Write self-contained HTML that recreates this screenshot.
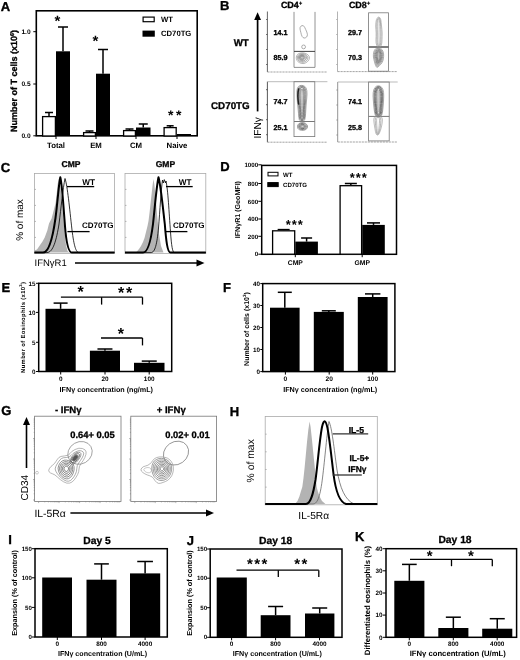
<!DOCTYPE html>
<html><head><meta charset="utf-8"><title>Figure</title>
<style>html,body{margin:0;padding:0;background:#fff;}svg{display:block;}</style></head>
<body>
<svg width="520" height="660" viewBox="0 0 520 660" font-family="Liberation Sans, Arial, sans-serif" text-rendering="geometricPrecision">
<defs><filter id="soft" x="0" y="0" width="520" height="660" filterUnits="userSpaceOnUse"><feGaussianBlur stdDeviation="0.4"/></filter></defs>
<rect width="520" height="660" fill="#fff"/>
<g filter="url(#soft)">
<text x="0.8" y="10.8" font-size="13" font-weight="bold" text-anchor="start" fill="#000"  stroke="#000" stroke-width="0.35">A</text>
<rect x="36.3" y="10.8" width="160.89999999999998" height="125.00000000000001" fill="none" stroke="#000" stroke-width="1.6"/>
<text x="16.8" y="81" font-size="9" font-weight="bold" text-anchor="middle" fill="#000" transform="rotate(-90 16.8 81)"  stroke="#000" stroke-width="0.3">Number of T cells (x10<tspan font-size="5.5" dy="-3">6</tspan><tspan dy="3">)</tspan></text>
<line x1="33.3" y1="31.7" x2="36.3" y2="31.7" stroke="#000" stroke-width="1" />
<text x="30.6" y="34.076" font-size="6.6" font-weight="bold" text-anchor="end" fill="#000"  >1.0</text>
<line x1="33.3" y1="84" x2="36.3" y2="84" stroke="#000" stroke-width="1" />
<text x="30.6" y="86.376" font-size="6.6" font-weight="bold" text-anchor="end" fill="#000"  >0.5</text>
<line x1="33.3" y1="135.8" x2="36.3" y2="135.8" stroke="#000" stroke-width="1" />
<text x="30.6" y="138.17600000000002" font-size="6.6" font-weight="bold" text-anchor="end" fill="#000"  >0.0</text>
<line x1="49.0" y1="116" x2="49.0" y2="112.5" stroke="#000" stroke-width="1.5" />
<line x1="45.0" y1="112.5" x2="53.0" y2="112.5" stroke="#000" stroke-width="1.5" />
<rect x="42.60" y="116.60" width="12.80" height="19.40" fill="#fff" stroke="#000" stroke-width="1.3"/>
<line x1="63.0" y1="51.3" x2="63.0" y2="27" stroke="#000" stroke-width="1.5" />
<line x1="58.0" y1="27" x2="68.0" y2="27" stroke="#000" stroke-width="1.5" />
<rect x="56.00" y="51.30" width="14.00" height="84.70" fill="#000" stroke="none" stroke-width="0"/>
<line x1="89.5" y1="132" x2="89.5" y2="131" stroke="#000" stroke-width="1.5" />
<line x1="85.5" y1="131" x2="93.5" y2="131" stroke="#000" stroke-width="1.5" />
<rect x="83.60" y="132.60" width="11.80" height="3.40" fill="#fff" stroke="#000" stroke-width="1.3"/>
<line x1="103.0" y1="73.7" x2="103.0" y2="49.5" stroke="#000" stroke-width="1.5" />
<line x1="98.0" y1="49.5" x2="108.0" y2="49.5" stroke="#000" stroke-width="1.5" />
<rect x="96.00" y="73.70" width="14.00" height="62.30" fill="#000" stroke="none" stroke-width="0"/>
<line x1="129.5" y1="130" x2="129.5" y2="129" stroke="#000" stroke-width="1.5" />
<line x1="125.5" y1="129" x2="133.5" y2="129" stroke="#000" stroke-width="1.5" />
<rect x="123.60" y="130.60" width="11.80" height="5.40" fill="#fff" stroke="#000" stroke-width="1.3"/>
<line x1="143.25" y1="127.5" x2="143.25" y2="124" stroke="#000" stroke-width="1.5" />
<line x1="138.75" y1="124" x2="147.75" y2="124" stroke="#000" stroke-width="1.5" />
<rect x="136.00" y="127.50" width="14.50" height="8.50" fill="#000" stroke="none" stroke-width="0"/>
<line x1="170.15" y1="127" x2="170.15" y2="125.8" stroke="#000" stroke-width="1.5" />
<line x1="166.65" y1="125.8" x2="173.65" y2="125.8" stroke="#000" stroke-width="1.5" />
<rect x="164.10" y="127.60" width="12.10" height="8.40" fill="#fff" stroke="#000" stroke-width="1.3"/>
<rect x="177.00" y="134.00" width="14.00" height="2.00" fill="#000" stroke="none" stroke-width="0"/>
<line x1="56" y1="136" x2="56" y2="139" stroke="#000" stroke-width="1" />
<text x="56" y="148" font-size="7.8" font-weight="bold" text-anchor="middle" fill="#000"  >Total</text>
<line x1="96" y1="136" x2="96" y2="139" stroke="#000" stroke-width="1" />
<text x="96" y="148" font-size="7.8" font-weight="bold" text-anchor="middle" fill="#000"  >EM</text>
<line x1="136" y1="136" x2="136" y2="139" stroke="#000" stroke-width="1" />
<text x="136" y="148" font-size="7.8" font-weight="bold" text-anchor="middle" fill="#000"  >CM</text>
<line x1="177" y1="136" x2="177" y2="139" stroke="#000" stroke-width="1" />
<text x="177" y="148" font-size="7.8" font-weight="bold" text-anchor="middle" fill="#000"  >Naive</text>
<text x="57.5" y="26.15" font-size="15" font-weight="bold" text-anchor="middle" fill="#000"  >*</text>
<text x="95.4" y="46.15" font-size="15" font-weight="bold" text-anchor="middle" fill="#000"  >*</text>
<text x="170.8" y="120.1" font-size="14" font-weight="bold" text-anchor="middle" fill="#000"  >*</text>
<text x="178.8" y="120.1" font-size="14" font-weight="bold" text-anchor="middle" fill="#000"  >*</text>
<rect x="143.10" y="17.10" width="11.10" height="4.60" fill="#fff" stroke="#000" stroke-width="1.2"/>
<text x="161" y="21.7" font-size="7.7" font-weight="bold" text-anchor="start" fill="#000"  >WT</text>
<rect x="142.50" y="30.60" width="12.30" height="6.10" fill="#000" stroke="none" stroke-width="1"/>
<text x="161" y="36.2" font-size="7.7" font-weight="bold" text-anchor="start" fill="#000"  >CD70TG</text>
<text x="220" y="10.3" font-size="13" font-weight="bold" text-anchor="start" fill="#000"  stroke="#000" stroke-width="0.35">B</text>
<text x="291.5" y="8.3" font-size="9" font-weight="bold" text-anchor="middle" fill="#000"   stroke="#000" stroke-width="0.3">CD4<tspan font-size="5.5" dy="-3">+</tspan></text>
<text x="359.5" y="8.3" font-size="9" font-weight="bold" text-anchor="middle" fill="#000"   stroke="#000" stroke-width="0.3">CD8<tspan font-size="5.5" dy="-3">+</tspan></text>
<line x1="257.6" y1="18" x2="257.6" y2="111.4" stroke="#000" stroke-width="1.7" />
<polygon points="257.6,12.3 254.2,20 261,20" fill="#000"/>
<text x="261" y="138.6" font-size="10.2"  text-anchor="start" fill="#000" transform="rotate(-90 261 138.6)" >IFNγ</text>
<text x="241.2" y="46.2" font-size="9.7" font-weight="bold" text-anchor="middle" fill="#000"   stroke="#000" stroke-width="0.3">WT</text>
<text x="249.7" y="109.2" font-size="9.8" font-weight="bold" text-anchor="end" fill="#000"   stroke="#000" stroke-width="0.3">CD70TG</text>
<line x1="267.4" y1="11.5" x2="267.4" y2="72" stroke="#555" stroke-width="0.9" />
<line x1="267.4" y1="72" x2="327.4" y2="72" stroke="#999" stroke-width="0.9" stroke-dasharray="2.2 0.8"/>
<line x1="266.09999999999997" y1="19.5" x2="267.4" y2="19.5" stroke="#555" stroke-width="0.9" />
<line x1="266.09999999999997" y1="34.5" x2="267.4" y2="34.5" stroke="#555" stroke-width="0.9" />
<line x1="266.09999999999997" y1="49.5" x2="267.4" y2="49.5" stroke="#555" stroke-width="0.9" />
<line x1="266.09999999999997" y1="64.5" x2="267.4" y2="64.5" stroke="#555" stroke-width="0.9" />
<path d="M294,11.9 V67.4 H315 V11.9" fill="none" stroke="#777" stroke-width="0.8"/>
<line x1="294" y1="51.4" x2="315" y2="51.4" stroke="#444" stroke-width="1" />
<text transform="translate(280.5 34.5) scale(1 1)" font-size="7.2" font-weight="bold" text-anchor="middle" stroke="#000" stroke-width="0.3">14.1</text>
<text transform="translate(280.5 60.1) scale(1 1)" font-size="7.2" font-weight="bold" text-anchor="middle" stroke="#000" stroke-width="0.3">85.9</text>
<path d="M300.1,27.5 Q300.4,26.2 302.0,25.6 Q303.6,25.1 304.6,27.2 Q305.7,29.4 306.8,32.0 Q307.8,34.7 307.2,36.0 Q306.7,37.3 305.4,37.8 Q304.1,38.4 303.1,37.6 Q302.0,36.8 301.4,34.7 Q300.9,32.6 300.4,30.8 Q299.8,28.9 300.1,27.5 Z" fill="none" stroke="#8a8a8a" stroke-width="0.7"/>
<circle cx="303.6" cy="46.9" r="1.9" fill="none" stroke="#8a8a8a" stroke-width="0.7"/>
<path d="M296.4,58.8 Q296.0,57.0 296.8,55.5 Q297.5,54.0 299.2,53.4 Q301.0,52.7 303.0,52.9 Q305.0,53.0 306.8,54.0 Q308.5,55.0 309.2,56.5 Q309.9,58.0 308.9,59.8 Q308.0,61.5 306.0,62.7 Q304.0,63.9 301.8,63.5 Q299.5,63.0 298.1,61.8 Q296.8,60.5 296.4,58.8 Z" fill="none" stroke="#999" stroke-width="0.7"/>
<path d="M297.5,58.5 Q297.2,57.1 297.8,55.9 Q298.4,54.7 299.8,54.1 Q301.2,53.6 302.8,53.7 Q304.4,53.9 305.8,54.7 Q307.2,55.5 307.7,56.7 Q308.3,57.9 307.5,59.3 Q306.8,60.7 305.2,61.6 Q303.6,62.6 301.8,62.2 Q300.0,61.9 298.9,60.9 Q297.8,59.9 297.5,58.5 Z" fill="none" stroke="#888" stroke-width="0.7"/>
<path d="M298.5,58.2 Q298.2,57.1 298.7,56.2 Q299.1,55.3 300.2,54.9 Q301.3,54.4 302.5,54.5 Q303.8,54.6 304.9,55.3 Q306.0,55.9 306.4,56.8 Q306.8,57.7 306.2,58.8 Q305.6,59.9 304.4,60.6 Q303.2,61.4 301.8,61.1 Q300.4,60.8 299.5,60.1 Q298.7,59.3 298.5,58.2 Z" fill="none" stroke="#777" stroke-width="0.7"/>
<path d="M299.4,58.0 Q299.2,57.2 299.5,56.5 Q299.9,55.8 300.7,55.5 Q301.4,55.2 302.3,55.3 Q303.2,55.4 304.0,55.8 Q304.8,56.3 305.1,56.9 Q305.4,57.6 305.0,58.4 Q304.6,59.2 303.7,59.7 Q302.8,60.3 301.8,60.1 Q300.8,59.9 300.2,59.3 Q299.6,58.7 299.4,58.0 Z" fill="none" stroke="#666" stroke-width="0.7"/>
<path d="M300.2,57.7 Q300.1,57.2 300.3,56.8 Q300.5,56.3 301.0,56.1 Q301.6,55.9 302.2,56.0 Q302.8,56.0 303.3,56.3 Q303.8,56.6 304.0,57.1 Q304.2,57.5 303.9,58.0 Q303.7,58.6 303.1,58.9 Q302.5,59.3 301.8,59.1 Q301.1,59.0 300.7,58.6 Q300.3,58.3 300.2,57.7 Z" fill="none" stroke="#555" stroke-width="0.7"/>
<path d="M300.9,57.5 Q300.9,57.3 301.0,57.0 Q301.1,56.8 301.4,56.7 Q301.7,56.6 302.0,56.6 Q302.3,56.6 302.6,56.8 Q302.9,56.9 303.0,57.2 Q303.1,57.4 302.9,57.7 Q302.8,58.0 302.5,58.2 Q302.2,58.4 301.8,58.3 Q301.4,58.2 301.2,58.0 Q301.0,57.8 300.9,57.5 Z" fill="none" stroke="#666" stroke-width="0.6"/>
<line x1="267.4" y1="81.7" x2="267.4" y2="142.2" stroke="#444" stroke-width="0.9" />
<line x1="267.4" y1="142.2" x2="327.4" y2="142.2" stroke="#999" stroke-width="0.9" stroke-dasharray="2.2 0.8"/>
<line x1="267.4" y1="81.7" x2="327.4" y2="81.7" stroke="#aaa" stroke-width="0.8" />
<line x1="266.09999999999997" y1="89.7" x2="267.4" y2="89.7" stroke="#444" stroke-width="0.9" />
<line x1="266.09999999999997" y1="104.7" x2="267.4" y2="104.7" stroke="#444" stroke-width="0.9" />
<line x1="266.09999999999997" y1="119.7" x2="267.4" y2="119.7" stroke="#444" stroke-width="0.9" />
<line x1="266.09999999999997" y1="134.7" x2="267.4" y2="134.7" stroke="#444" stroke-width="0.9" />
<rect x="294" y="81.7" width="20.80000000000001" height="54.89999999999999" fill="none" stroke="#777" stroke-width="0.8"/>
<line x1="294" y1="121.5" x2="314.8" y2="121.5" stroke="#777" stroke-width="1" />
<text transform="translate(280.5 104.19999999999999) scale(1 1)" font-size="7.2" font-weight="bold" text-anchor="middle" stroke="#000" stroke-width="0.3">74.7</text>
<text transform="translate(280.5 130.1) scale(1 1)" font-size="7.2" font-weight="bold" text-anchor="middle" stroke="#000" stroke-width="0.3">25.1</text>
<path d="M299.9,85.6 Q301.5,85.2 303.2,85.6 Q305.0,86.0 306.1,88.0 Q307.1,90.0 307.0,94.0 Q306.8,98.0 306.4,102.0 Q306.0,106.0 305.8,110.0 Q305.6,114.0 305.3,117.2 Q305.0,120.5 303.5,121.0 Q302.0,121.5 300.5,121.0 Q299.0,120.5 298.8,117.2 Q298.6,114.0 298.2,110.0 Q297.8,106.0 297.4,102.0 Q297.0,98.0 296.9,94.0 Q296.7,90.0 297.5,88.0 Q298.3,86.0 299.9,85.6 Z" fill="none" stroke="#888" stroke-width="0.7"/>
<path d="M300.3,86.3 Q301.6,85.9 303.0,86.3 Q304.4,86.7 305.2,88.6 Q306.1,90.5 306.0,94.4 Q305.8,98.2 305.5,102.0 Q305.2,105.9 305.0,109.7 Q304.9,113.6 304.6,116.7 Q304.4,119.8 303.2,120.3 Q302.0,120.8 300.8,120.3 Q299.6,119.8 299.4,116.7 Q299.3,113.6 299.0,109.7 Q298.6,105.9 298.3,102.0 Q298.0,98.2 297.9,94.4 Q297.8,90.5 298.4,88.6 Q299.0,86.7 300.3,86.3 Z" fill="none" stroke="#666" stroke-width="0.7"/>
<path d="M300.7,87.0 Q301.7,86.6 302.8,87.0 Q303.8,87.4 304.4,89.2 Q305.1,91.0 305.0,94.7 Q304.9,98.4 304.6,102.1 Q304.4,105.8 304.3,109.4 Q304.2,113.1 304.0,116.1 Q303.8,119.1 302.9,119.6 Q302.0,120.0 301.1,119.6 Q300.2,119.1 300.1,116.1 Q300.0,113.1 299.7,109.4 Q299.5,105.8 299.2,102.1 Q299.0,98.4 298.9,94.7 Q298.8,91.0 299.3,89.2 Q299.8,87.4 300.7,87.0 Z" fill="none" stroke="#555" stroke-width="0.7"/>
<path d="M301.2,87.7 Q301.8,87.3 302.5,87.7 Q303.2,88.0 303.6,89.8 Q304.0,91.6 304.0,95.1 Q303.9,98.6 303.8,102.1 Q303.6,105.6 303.5,109.2 Q303.4,112.7 303.3,115.5 Q303.2,118.4 302.6,118.8 Q302.0,119.3 301.4,118.8 Q300.8,118.4 300.7,115.5 Q300.6,112.7 300.5,109.2 Q300.3,105.6 300.2,102.1 Q300.0,98.6 299.9,95.1 Q299.9,91.6 300.2,89.8 Q300.5,88.0 301.2,87.7 Z" fill="none" stroke="#555" stroke-width="0.7"/>
<path d="M301.6,89.1 Q301.9,88.8 302.2,89.1 Q302.6,89.4 302.8,91.0 Q303.0,92.6 303.0,95.8 Q303.0,99.0 302.9,102.2 Q302.8,105.4 302.8,108.6 Q302.7,111.8 302.7,114.4 Q302.6,117.0 302.3,117.4 Q302.0,117.8 301.7,117.4 Q301.4,117.0 301.4,114.4 Q301.3,111.8 301.2,108.6 Q301.2,105.4 301.1,102.2 Q301.0,99.0 301.0,95.8 Q300.9,92.6 301.1,91.0 Q301.3,89.4 301.6,89.1 Z" fill="none" stroke="#666" stroke-width="0.7"/>
<path d="M298.6,89 C297.6,93 297.8,99 298.6,104" fill="none" stroke="#222" stroke-width="1.5" stroke-linecap="round"/>
<path d="M297.6,127.5 Q297.3,126.5 297.9,125.0 Q298.5,123.5 300.2,123.0 Q302.0,122.4 303.9,122.8 Q305.8,123.2 306.8,124.6 Q307.8,126.0 307.4,127.5 Q307.0,129.0 305.2,129.8 Q303.5,130.5 301.5,130.2 Q299.5,130.0 298.6,129.2 Q297.8,128.5 297.6,127.5 Z" fill="none" stroke="#777" stroke-width="0.8"/>
<path d="M298.6,127.3 Q298.4,126.5 298.9,125.3 Q299.3,124.2 300.7,123.7 Q302.1,123.3 303.5,123.6 Q305.0,123.9 305.8,125.0 Q306.6,126.1 306.3,127.3 Q306.0,128.4 304.6,129.0 Q303.2,129.6 301.7,129.4 Q300.1,129.2 299.5,128.6 Q298.8,128.1 298.6,127.3 Z" fill="none" stroke="#666" stroke-width="0.8"/>
<path d="M299.5,127.1 Q299.4,126.5 299.7,125.6 Q300.1,124.8 301.1,124.4 Q302.1,124.1 303.2,124.4 Q304.3,124.6 304.9,125.4 Q305.5,126.2 305.3,127.1 Q305.0,128.0 304.0,128.4 Q303.0,128.8 301.8,128.7 Q300.7,128.5 300.2,128.1 Q299.7,127.7 299.5,127.1 Z" fill="none" stroke="#555" stroke-width="0.8"/>
<path d="M300.4,126.9 Q300.3,126.5 300.5,125.9 Q300.8,125.3 301.5,125.1 Q302.2,124.9 302.9,125.0 Q303.7,125.2 304.1,125.7 Q304.5,126.3 304.3,126.9 Q304.2,127.5 303.5,127.8 Q302.8,128.1 302.0,128.0 Q301.2,127.9 300.8,127.6 Q300.5,127.3 300.4,126.9 Z" fill="none" stroke="#555" stroke-width="0.8"/>
<path d="M301.4,126.7 Q301.3,126.5 301.4,126.2 Q301.5,125.9 301.9,125.8 Q302.2,125.7 302.6,125.8 Q303.0,125.8 303.2,126.1 Q303.4,126.4 303.3,126.7 Q303.2,127.0 302.9,127.2 Q302.5,127.3 302.1,127.2 Q301.7,127.2 301.6,127.1 Q301.4,126.9 301.4,126.7 Z" fill="none" stroke="#777" stroke-width="0.6"/>
<line x1="337.5" y1="11.5" x2="337.5" y2="71.6" stroke="#aaa" stroke-width="0.9" />
<line x1="337.5" y1="71.6" x2="397.5" y2="71.6" stroke="#999" stroke-width="0.9" stroke-dasharray="2.2 0.8"/>
<line x1="336.2" y1="19.5" x2="337.5" y2="19.5" stroke="#aaa" stroke-width="0.9" />
<line x1="336.2" y1="34.5" x2="337.5" y2="34.5" stroke="#aaa" stroke-width="0.9" />
<line x1="336.2" y1="49.5" x2="337.5" y2="49.5" stroke="#aaa" stroke-width="0.9" />
<line x1="336.2" y1="64.5" x2="337.5" y2="64.5" stroke="#aaa" stroke-width="0.9" />
<rect x="368.6" y="12.8" width="19.899999999999977" height="58.400000000000006" fill="none" stroke="#777" stroke-width="0.8"/>
<line x1="368.6" y1="47" x2="388.5" y2="47" stroke="#555" stroke-width="1.5" />
<text transform="translate(355 34.9) scale(1 1)" font-size="7.2" font-weight="bold" text-anchor="middle" stroke="#000" stroke-width="0.3">29.7</text>
<text transform="translate(355 60.0) scale(1 1)" font-size="7.2" font-weight="bold" text-anchor="middle" stroke="#000" stroke-width="0.3">70.3</text>
<path d="M377.5,17.7 Q378.8,16.4 379.9,17.7 Q381.0,19.0 381.2,22.5 Q381.5,26.0 381.9,29.5 Q382.3,33.0 382.1,36.5 Q382.0,40.0 381.8,43.0 Q381.5,46.0 380.2,46.8 Q379.0,47.5 377.8,46.8 Q376.5,46.0 376.1,43.0 Q375.8,40.0 376.1,36.5 Q376.3,33.0 375.9,29.5 Q375.5,26.0 375.9,22.5 Q376.2,19.0 377.5,17.7 Z" fill="none" stroke="#999" stroke-width="0.65"/>
<path d="M378.0,18.4 Q378.8,17.2 379.6,18.4 Q380.3,19.6 380.5,23.0 Q380.6,26.3 380.9,29.6 Q381.1,33.0 381.0,36.3 Q380.9,39.6 380.8,42.5 Q380.6,45.3 379.8,46.0 Q379.0,46.7 378.1,46.0 Q377.3,45.3 377.1,42.5 Q376.9,39.6 377.0,36.3 Q377.2,33.0 376.9,29.6 Q376.7,26.3 376.9,23.0 Q377.1,19.6 378.0,18.4 Z" fill="none" stroke="#888" stroke-width="0.65"/>
<path d="M378.4,19.1 Q378.9,18.0 379.2,19.1 Q379.6,20.3 379.7,23.4 Q379.8,26.6 379.9,29.8 Q380.0,32.9 380.0,36.0 Q379.9,39.2 379.8,41.9 Q379.8,44.6 379.3,45.3 Q378.9,46.0 378.5,45.3 Q378.1,44.6 378.0,41.9 Q377.9,39.2 378.0,36.0 Q378.0,32.9 377.9,29.8 Q377.8,26.6 377.9,23.4 Q378.0,20.3 378.4,19.1 Z" fill="none" stroke="#999" stroke-width="0.65"/>
<path d="M377.0,47.8 Q378.5,47.0 380.5,48.2 Q382.5,49.5 383.1,51.8 Q383.8,54.0 383.6,56.5 Q383.5,59.0 382.8,61.0 Q382.0,63.0 380.8,64.3 Q379.5,65.6 378.2,66.8 Q377.0,68.0 376.4,67.0 Q375.8,66.0 375.1,64.0 Q374.5,62.0 373.9,59.5 Q373.2,57.0 373.4,54.5 Q373.5,52.0 374.5,50.2 Q375.5,48.5 377.0,47.8 Z" fill="none" stroke="#888" stroke-width="0.7"/>
<path d="M377.3,48.5 Q378.5,47.9 380.1,49.0 Q381.7,50.1 382.2,52.1 Q382.8,54.1 382.6,56.4 Q382.5,58.6 381.9,60.5 Q381.3,62.2 380.3,63.4 Q379.3,64.6 378.3,65.7 Q377.3,66.8 376.8,65.8 Q376.4,65.0 375.8,63.2 Q375.3,61.4 374.8,59.1 Q374.3,56.9 374.4,54.6 Q374.5,52.4 375.3,50.8 Q376.1,49.2 377.3,48.5 Z" fill="none" stroke="#777" stroke-width="0.7"/>
<path d="M377.6,49.3 Q378.5,48.7 379.8,49.7 Q381.0,50.7 381.4,52.5 Q381.8,54.3 381.7,56.3 Q381.6,58.3 381.2,59.9 Q380.7,61.5 379.9,62.5 Q379.2,63.6 378.4,64.5 Q377.6,65.5 377.2,64.7 Q376.9,63.9 376.5,62.3 Q376.1,60.7 375.7,58.7 Q375.3,56.7 375.3,54.7 Q375.4,52.7 376.1,51.3 Q376.7,49.9 377.6,49.3 Z" fill="none" stroke="#666" stroke-width="0.7"/>
<path d="M377.9,50.1 Q378.6,49.5 379.5,50.4 Q380.4,51.3 380.6,52.9 Q380.9,54.5 380.9,56.2 Q380.8,58.0 380.5,59.4 Q380.1,60.8 379.6,61.7 Q379.0,62.6 378.4,63.4 Q377.9,64.2 377.6,63.5 Q377.3,62.9 377.0,61.5 Q376.8,60.0 376.5,58.3 Q376.2,56.5 376.2,54.8 Q376.3,53.0 376.8,51.8 Q377.2,50.6 377.9,50.1 Z" fill="none" stroke="#555" stroke-width="0.7"/>
<path d="M378.2,50.8 Q378.6,50.4 379.1,51.1 Q379.7,51.9 379.9,53.2 Q380.1,54.6 380.0,56.1 Q380.0,57.6 379.8,58.8 Q379.6,60.0 379.2,60.8 Q378.9,61.6 378.5,62.3 Q378.2,63.0 378.0,62.4 Q377.8,61.8 377.6,60.6 Q377.5,59.4 377.3,57.9 Q377.1,56.4 377.1,54.9 Q377.2,53.4 377.5,52.3 Q377.7,51.3 378.2,50.8 Z" fill="none" stroke="#555" stroke-width="0.7"/>
<path d="M378.4,51.6 Q378.6,51.2 378.8,51.9 Q379.1,52.5 379.1,53.6 Q379.2,54.8 379.2,56.0 Q379.2,57.2 379.1,58.2 Q379.0,59.2 378.9,59.9 Q378.7,60.5 378.6,61.1 Q378.4,61.8 378.3,61.2 Q378.3,60.8 378.2,59.8 Q378.1,58.8 378.0,57.5 Q378.0,56.2 378.0,55.0 Q378.0,53.8 378.1,52.9 Q378.2,52.0 378.4,51.6 Z" fill="none" stroke="#777" stroke-width="0.7"/>
<line x1="337.7" y1="82" x2="337.7" y2="142" stroke="#888" stroke-width="0.9" />
<line x1="337.7" y1="142" x2="397.7" y2="142" stroke="#999" stroke-width="0.9" stroke-dasharray="2.2 0.8"/>
<line x1="337.7" y1="82" x2="397.7" y2="82" stroke="#aaa" stroke-width="0.8" />
<line x1="336.4" y1="90" x2="337.7" y2="90" stroke="#888" stroke-width="0.9" />
<line x1="336.4" y1="105" x2="337.7" y2="105" stroke="#888" stroke-width="0.9" />
<line x1="336.4" y1="120" x2="337.7" y2="120" stroke="#888" stroke-width="0.9" />
<line x1="336.4" y1="135" x2="337.7" y2="135" stroke="#888" stroke-width="0.9" />
<rect x="368.6" y="82" width="20.599999999999966" height="58.900000000000006" fill="none" stroke="#777" stroke-width="0.8"/>
<line x1="368.6" y1="116.4" x2="389.2" y2="116.4" stroke="#777" stroke-width="1" />
<text transform="translate(355.1 104.19999999999999) scale(1 1)" font-size="7.2" font-weight="bold" text-anchor="middle" stroke="#000" stroke-width="0.3">74.1</text>
<text transform="translate(355.1 130.1) scale(1 1)" font-size="7.2" font-weight="bold" text-anchor="middle" stroke="#000" stroke-width="0.3">25.8</text>
<path d="M376.6,86.2 Q378.5,85.4 380.2,86.2 Q382.0,87.0 382.9,89.5 Q383.8,92.0 383.7,96.0 Q383.6,100.0 383.3,104.0 Q383.0,108.0 382.5,112.0 Q382.0,116.0 380.2,116.8 Q378.5,117.5 376.8,116.8 Q375.0,116.0 374.5,112.0 Q374.0,108.0 373.6,104.0 Q373.3,100.0 373.1,96.0 Q373.0,92.0 373.9,89.5 Q374.8,87.0 376.6,86.2 Z" fill="none" stroke="#888" stroke-width="0.75"/>
<path d="M377.0,86.9 Q378.5,86.2 379.9,86.9 Q381.3,87.7 382.0,90.1 Q382.7,92.5 382.6,96.2 Q382.6,100.0 382.3,103.8 Q382.1,107.7 381.7,111.5 Q381.3,115.2 379.9,116.0 Q378.5,116.7 377.1,116.0 Q375.7,115.2 375.3,111.5 Q374.9,107.7 374.6,103.8 Q374.3,100.0 374.2,96.2 Q374.1,92.5 374.8,90.1 Q375.5,87.7 377.0,86.9 Z" fill="none" stroke="#555" stroke-width="0.75"/>
<path d="M377.3,87.7 Q378.5,87.0 379.5,87.7 Q380.6,88.4 381.2,90.7 Q381.7,92.9 381.7,96.5 Q381.6,100.1 381.4,103.7 Q381.3,107.3 380.9,110.9 Q380.6,114.5 379.5,115.2 Q378.5,115.8 377.4,115.2 Q376.3,114.5 376.0,110.9 Q375.7,107.3 375.5,103.7 Q375.2,100.1 375.1,96.5 Q375.1,92.9 375.6,90.7 Q376.2,88.4 377.3,87.7 Z" fill="none" stroke="#444" stroke-width="0.75"/>
<path d="M377.6,88.3 Q378.4,87.6 379.2,88.3 Q380.0,89.0 380.4,91.1 Q380.8,93.3 380.8,96.7 Q380.7,100.1 380.6,103.6 Q380.5,107.0 380.2,110.5 Q380.0,113.9 379.2,114.5 Q378.4,115.2 377.7,114.5 Q376.9,113.9 376.6,110.5 Q376.4,107.0 376.3,103.6 Q376.1,100.1 376.0,96.7 Q376.0,93.3 376.4,91.1 Q376.8,89.0 377.6,88.3 Z" fill="none" stroke="#555" stroke-width="0.75"/>
<path d="M377.9,88.9 Q378.4,88.2 378.9,88.9 Q379.4,89.5 379.7,91.6 Q379.9,93.6 379.9,96.9 Q379.9,100.2 379.8,103.5 Q379.7,106.7 379.5,110.0 Q379.4,113.3 378.9,113.9 Q378.4,114.5 377.9,113.9 Q377.4,113.3 377.3,110.0 Q377.2,106.7 377.1,103.5 Q377.0,100.2 376.9,96.9 Q376.9,93.6 377.1,91.6 Q377.4,89.5 377.9,88.9 Z" fill="none" stroke="#777" stroke-width="0.75"/>
<path d="M378.2,90.6 Q378.4,90.1 378.6,90.6 Q378.8,91.2 378.9,93.0 Q378.9,94.7 378.9,97.5 Q378.9,100.3 378.9,103.1 Q378.9,105.9 378.8,108.7 Q378.8,111.5 378.6,112.0 Q378.4,112.5 378.2,112.0 Q378.1,111.5 378.0,108.7 Q378.0,105.9 377.9,103.1 Q377.9,100.3 377.9,97.5 Q377.9,94.7 377.9,93.0 Q378.0,91.2 378.2,90.6 Z" fill="none" stroke="#aaa" stroke-width="0.75"/>
<path d="M375.8,116.0 Q378.0,115.0 380.2,116.0 Q382.5,117.0 382.4,120.0 Q382.3,123.0 381.6,126.0 Q381.0,129.0 380.2,131.0 Q379.5,133.0 378.8,134.2 Q378.0,135.5 377.0,135.0 Q376.0,134.5 375.5,131.8 Q375.0,129.0 374.5,126.0 Q374.0,123.0 373.8,120.0 Q373.5,117.0 375.8,116.0 Z" fill="none" stroke="#999" stroke-width="0.65"/>
<path d="M376.5,116.7 Q378.0,115.8 379.5,116.7 Q381.0,117.6 380.9,120.4 Q380.8,123.2 380.4,125.9 Q380.0,128.7 379.5,130.5 Q379.0,132.4 378.5,133.5 Q378.0,134.7 377.3,134.2 Q376.7,133.7 376.4,131.2 Q376.0,128.7 375.7,125.9 Q375.4,123.2 375.2,120.4 Q375.0,117.6 376.5,116.7 Z" fill="none" stroke="#888" stroke-width="0.65"/>
<path d="M377.3,117.3 Q378.0,116.5 378.7,117.3 Q379.5,118.2 379.5,120.8 Q379.4,123.3 379.2,125.8 Q379.0,128.4 378.7,130.1 Q378.5,131.8 378.2,132.9 Q378.0,133.9 377.7,133.5 Q377.3,133.1 377.2,130.7 Q377.0,128.4 376.8,125.8 Q376.7,123.3 376.6,120.8 Q376.5,118.2 377.3,117.3 Z" fill="none" stroke="#999" stroke-width="0.65"/>
<text x="0.8" y="171.8" font-size="13" font-weight="bold" text-anchor="start" fill="#000"  stroke="#000" stroke-width="0.35">C</text>
<text x="71" y="167.2" font-size="8.5" font-weight="bold" text-anchor="middle" fill="#000"   stroke="#000" stroke-width="0.3">CMP</text>
<text x="165.4" y="167.2" font-size="8.5" font-weight="bold" text-anchor="middle" fill="#000"   stroke="#000" stroke-width="0.3">GMP</text>
<text x="23" y="220" font-size="10"  text-anchor="middle" fill="#000" transform="rotate(-90 23 220)" >% of max</text>
<rect x="34.5" y="173.4" width="80.0" height="80.0" fill="#fff" stroke="#aaa" stroke-width="0.8"/>
<line x1="34.5" y1="189.4" x2="36.0" y2="189.4" stroke="#999" stroke-width="0.7" />
<line x1="34.5" y1="205.4" x2="36.0" y2="205.4" stroke="#999" stroke-width="0.7" />
<line x1="34.5" y1="221.4" x2="36.0" y2="221.4" stroke="#999" stroke-width="0.7" />
<line x1="34.5" y1="237.4" x2="36.0" y2="237.4" stroke="#999" stroke-width="0.7" />
<path d="M34.5,252.6 L34.5,250.5 L37,249.6 L40.4,244.4 L42.5,241.5 L44.7,237.5 L47.3,230.6 L49,223.6 L51.6,218.4 L53.4,211.5 L55.6,202.9 L56.8,192.5 L57.7,183.8 L58.8,178.5 L60,183 L61.5,196 L63,215 L64.6,232 L66,245 L67.5,251 L69.5,252.6 Z" fill="#b3b3b3" stroke="none"/>
<path d="M34.5,252.6 L47,252.6 C53,252.6 56.5,240 59,224 C61,208 63,188 65,178.5 C67.5,186 69.5,208 72,230 C74,246 76,252.6 79,252.6 L114.5,252.6" fill="none" stroke="#000" stroke-width="0.8" stroke-linejoin="round"/>
<path d="M34.5,252.6 L43,252.6 C49,252.6 53,236 55.5,218 C57.5,203 58.5,186 60.3,177.3 C62.5,186 63.5,210 65.5,232 C67,246 69,252.6 72,252.6 L114.5,252.6" fill="none" stroke="#000" stroke-width="2" stroke-linejoin="round"/>
<line x1="67" y1="186.6" x2="94.2" y2="186.6" stroke="#000" stroke-width="1.3" />
<text x="88.6" y="184.7" font-size="8.2" font-weight="bold" text-anchor="middle" fill="#000"  >WT</text>
<line x1="67.4" y1="231.6" x2="89.6" y2="231.6" stroke="#000" stroke-width="1.3" />
<text x="97.8" y="228.2" font-size="8" font-weight="bold" text-anchor="middle" fill="#000"  >CD70TG</text>
<rect x="125" y="173.4" width="80.80000000000001" height="80.0" fill="#fff" stroke="#aaa" stroke-width="0.8"/>
<line x1="125" y1="189.4" x2="126.5" y2="189.4" stroke="#999" stroke-width="0.7" />
<line x1="125" y1="205.4" x2="126.5" y2="205.4" stroke="#999" stroke-width="0.7" />
<line x1="125" y1="221.4" x2="126.5" y2="221.4" stroke="#999" stroke-width="0.7" />
<line x1="125" y1="237.4" x2="126.5" y2="237.4" stroke="#999" stroke-width="0.7" />
<path d="M125,252.6 L136,252.6 L139,249 L141,246 L143,242 L144.5,238 L146,232 L147.5,226 L148.5,221 L149.5,213 L150.5,204 L151.5,195 L152.5,186 L153.4,179 L154.3,184 L155.5,196 L157,214 L159,234 L161,246 L163.5,252.6 Z" fill="#b3b3b3" stroke="none"/>
<path d="M125,252.6 L151,252.6 C155,252.6 157,244 158.5,228 C160,210 161,190 162.5,180 L163.3,183 L164.3,179.6 L165.5,183 L166,181 C168,190 169,212 170.5,232 C171.5,246 172.5,252.6 174.5,252.6 L205.8,252.6" fill="none" stroke="#000" stroke-width="0.8" stroke-linejoin="round"/>
<path d="M125,252.6 L143,252.6 C148,252.6 151,240 153,224 C155,206 156.5,186 158.5,177.3 C160.5,184 162.5,204 164.8,224 C166,240 167.5,252.6 170.5,252.6 L205.8,252.6" fill="none" stroke="#000" stroke-width="2" stroke-linejoin="round"/>
<line x1="166" y1="186.6" x2="192.7" y2="186.6" stroke="#000" stroke-width="1.3" />
<text x="185.2" y="184.7" font-size="8.2" font-weight="bold" text-anchor="middle" fill="#000"  >WT</text>
<line x1="165.4" y1="231.6" x2="187.4" y2="231.6" stroke="#000" stroke-width="1.3" />
<text x="188.8" y="228.2" font-size="8" font-weight="bold" text-anchor="middle" fill="#000"  >CD70TG</text>
<text x="34.5" y="266" font-size="9.5"  text-anchor="start" fill="#000"  >IFNγR1</text>
<line x1="75" y1="263" x2="198" y2="263" stroke="#000" stroke-width="1.6" />
<polygon points="204.5,263 196.5,259.5 196.5,266.5" fill="#000"/>
<text x="220.3" y="170.8" font-size="13" font-weight="bold" text-anchor="start" fill="#000"  stroke="#000" stroke-width="0.35">D</text>
<rect x="261.7" y="165.4" width="134.8" height="88.9" fill="none" stroke="#000" stroke-width="1.5"/>
<line x1="258.3" y1="164.8" x2="261.5" y2="164.8" stroke="#000" stroke-width="1" />
<text x="258.2" y="167.032" font-size="6.2" font-weight="bold" text-anchor="end" fill="#000"  >1000</text>
<line x1="258.3" y1="183.5" x2="261.5" y2="183.5" stroke="#000" stroke-width="1" />
<text x="258.2" y="185.732" font-size="6.2" font-weight="bold" text-anchor="end" fill="#000"  >800</text>
<line x1="258.3" y1="201.3" x2="261.5" y2="201.3" stroke="#000" stroke-width="1" />
<text x="258.2" y="203.532" font-size="6.2" font-weight="bold" text-anchor="end" fill="#000"  >600</text>
<line x1="258.3" y1="219" x2="261.5" y2="219" stroke="#000" stroke-width="1" />
<text x="258.2" y="221.232" font-size="6.2" font-weight="bold" text-anchor="end" fill="#000"  >400</text>
<line x1="258.3" y1="236.3" x2="261.5" y2="236.3" stroke="#000" stroke-width="1" />
<text x="258.2" y="238.532" font-size="6.2" font-weight="bold" text-anchor="end" fill="#000"  >200</text>
<line x1="258.3" y1="254.2" x2="261.5" y2="254.2" stroke="#000" stroke-width="1" />
<text x="258.2" y="256.432" font-size="6.2" font-weight="bold" text-anchor="end" fill="#000"  >0</text>
<text x="239.6" y="209.6" font-size="7.1" font-weight="bold" text-anchor="middle" fill="#000" transform="rotate(-90 239.6 209.6)" >IFNγR1 (GeoMFI)</text>
<rect x="268.00" y="172.30" width="10.00" height="3.60" fill="#fff" stroke="#000" stroke-width="1"/>
<text x="283" y="176.5" font-size="6.1" font-weight="bold" text-anchor="start" fill="#000"  >WT</text>
<rect x="267.80" y="182.60" width="10.40" height="4.00" fill="#000" stroke="#000" stroke-width="1"/>
<text x="283" y="187.2" font-size="6.1" font-weight="bold" text-anchor="start" fill="#000"  >CD70TG</text>
<line x1="283.65" y1="230.2" x2="283.65" y2="229.6" stroke="#000" stroke-width="1.5" />
<line x1="277.65" y1="229.6" x2="289.65" y2="229.6" stroke="#000" stroke-width="1.5" />
<rect x="272.60" y="230.80" width="22.10" height="23.40" fill="#fff" stroke="#000" stroke-width="1.3"/>
<line x1="306.6" y1="241.6" x2="306.6" y2="238" stroke="#000" stroke-width="1.5" />
<line x1="301.1" y1="238" x2="312.1" y2="238" stroke="#000" stroke-width="1.5" />
<rect x="295.30" y="241.60" width="22.60" height="12.60" fill="#000" stroke="none" stroke-width="0"/>
<line x1="350.85" y1="185.1" x2="350.85" y2="183.5" stroke="#000" stroke-width="1.5" />
<line x1="344.85" y1="183.5" x2="356.85" y2="183.5" stroke="#000" stroke-width="1.5" />
<rect x="340.10" y="185.70" width="21.50" height="68.50" fill="#fff" stroke="#000" stroke-width="1.3"/>
<line x1="373.5" y1="224.9" x2="373.5" y2="222.9" stroke="#000" stroke-width="1.5" />
<line x1="367.0" y1="222.9" x2="380.0" y2="222.9" stroke="#000" stroke-width="1.5" />
<rect x="362.20" y="224.90" width="22.60" height="29.30" fill="#000" stroke="none" stroke-width="0"/>
<text x="288.3" y="228.55" font-size="13" font-weight="bold" text-anchor="middle" fill="#000"  >*</text>
<text x="294.3" y="228.55" font-size="13" font-weight="bold" text-anchor="middle" fill="#000"  >*</text>
<text x="300.3" y="228.55" font-size="13" font-weight="bold" text-anchor="middle" fill="#000"  >*</text>
<text x="352.2" y="181.65" font-size="13" font-weight="bold" text-anchor="middle" fill="#000"  >*</text>
<text x="358.2" y="181.65" font-size="13" font-weight="bold" text-anchor="middle" fill="#000"  >*</text>
<text x="364.2" y="181.65" font-size="13" font-weight="bold" text-anchor="middle" fill="#000"  >*</text>
<line x1="295.3" y1="254.2" x2="295.3" y2="257.2" stroke="#000" stroke-width="1" />
<text x="295.3" y="264.5" font-size="6.8" font-weight="bold" text-anchor="middle" fill="#000"  >CMP</text>
<line x1="362.2" y1="254.2" x2="362.2" y2="257.2" stroke="#000" stroke-width="1" />
<text x="362.2" y="264.5" font-size="6.8" font-weight="bold" text-anchor="middle" fill="#000"  >GMP</text>
<text x="1.5" y="291.5" font-size="13" font-weight="bold" text-anchor="start" fill="#000"  stroke="#000" stroke-width="0.35">E</text>
<rect x="38.7" y="283.3" width="133.0" height="88.19999999999999" fill="none" stroke="#000" stroke-width="1.5"/>
<line x1="36.0" y1="283.3" x2="38.7" y2="283.3" stroke="#000" stroke-width="1" />
<text x="35.4" y="285.568" font-size="6.3" font-weight="bold" text-anchor="end" fill="#000"  >15</text>
<line x1="36.0" y1="312.4" x2="38.7" y2="312.4" stroke="#000" stroke-width="1" />
<text x="35.4" y="314.66799999999995" font-size="6.3" font-weight="bold" text-anchor="end" fill="#000"  >10</text>
<line x1="36.0" y1="342.3" x2="38.7" y2="342.3" stroke="#000" stroke-width="1" />
<text x="35.4" y="344.568" font-size="6.3" font-weight="bold" text-anchor="end" fill="#000"  >5</text>
<line x1="36.0" y1="371.5" x2="38.7" y2="371.5" stroke="#000" stroke-width="1" />
<text x="35.4" y="373.768" font-size="6.3" font-weight="bold" text-anchor="end" fill="#000"  >0</text>
<text x="24.6" y="327.3" font-size="5.9" font-weight="bold" text-anchor="middle" fill="#000" transform="rotate(-90 24.6 327.3)" letter-spacing="0.32">Number of Eosinophils (x10<tspan font-size="4.2" dy="-2.2">3</tspan><tspan dy="2.2">)</tspan></text>
<line x1="60.6" y1="308.8" x2="60.6" y2="303.1" stroke="#000" stroke-width="1.5" />
<line x1="53.6" y1="303.1" x2="67.6" y2="303.1" stroke="#000" stroke-width="1.5" />
<rect x="45.50" y="308.80" width="30.20" height="62.70" fill="#000" stroke="none" stroke-width="0"/>
<line x1="104.95" y1="350.7" x2="104.95" y2="349" stroke="#000" stroke-width="1.5" />
<line x1="97.45" y1="349" x2="112.45" y2="349" stroke="#000" stroke-width="1.5" />
<rect x="89.90" y="350.70" width="30.10" height="20.80" fill="#000" stroke="none" stroke-width="0"/>
<line x1="149.25" y1="362.8" x2="149.25" y2="361.1" stroke="#000" stroke-width="1.5" />
<line x1="141.75" y1="361.1" x2="156.75" y2="361.1" stroke="#000" stroke-width="1.5" />
<rect x="134.00" y="362.80" width="30.50" height="8.70" fill="#000" stroke="none" stroke-width="0"/>
<line x1="60.9" y1="297.2" x2="142.5" y2="297.2" stroke="#000" stroke-width="1.3" />
<line x1="101.6" y1="297.2" x2="101.6" y2="304.6" stroke="#000" stroke-width="1.3" />
<line x1="142.5" y1="297.2" x2="142.5" y2="304.6" stroke="#000" stroke-width="1.3" />
<line x1="101" y1="338" x2="142.5" y2="338" stroke="#000" stroke-width="1.3" />
<line x1="142.5" y1="338" x2="142.5" y2="345.4" stroke="#000" stroke-width="1.3" />
<text x="80.5" y="297.4" font-size="16" font-weight="bold" text-anchor="middle" fill="#000"  >*</text>
<text x="121.2" y="297.6" font-size="16" font-weight="bold" text-anchor="middle" fill="#000"  >*</text>
<text x="129.0" y="297.6" font-size="16" font-weight="bold" text-anchor="middle" fill="#000"  >*</text>
<text x="120.9" y="339.3" font-size="16" font-weight="bold" text-anchor="middle" fill="#000"  >*</text>
<line x1="60.7" y1="371.5" x2="60.7" y2="374.5" stroke="#000" stroke-width="1" />
<text x="60.7" y="380.5" font-size="6.4" font-weight="bold" text-anchor="middle" fill="#000"  >0</text>
<line x1="105" y1="371.5" x2="105" y2="374.5" stroke="#000" stroke-width="1" />
<text x="105" y="380.5" font-size="6.4" font-weight="bold" text-anchor="middle" fill="#000"  >20</text>
<line x1="149.2" y1="371.5" x2="149.2" y2="374.5" stroke="#000" stroke-width="1" />
<text x="149.2" y="380.5" font-size="6.4" font-weight="bold" text-anchor="middle" fill="#000"  >100</text>
<text x="106.3" y="392.2" font-size="7.2" font-weight="bold" text-anchor="middle" fill="#000"  >IFNγ concentration (ng/mL)</text>
<text x="223" y="291.5" font-size="13" font-weight="bold" text-anchor="start" fill="#000"  stroke="#000" stroke-width="0.35">F</text>
<rect x="262.7" y="283.6" width="132.2" height="88.0" fill="none" stroke="#000" stroke-width="1.5"/>
<line x1="260.3" y1="283.6" x2="262.7" y2="283.6" stroke="#000" stroke-width="1" />
<text x="260.1" y="285.868" font-size="6.3" font-weight="bold" text-anchor="end" fill="#000"  >40</text>
<line x1="260.3" y1="305.5" x2="262.7" y2="305.5" stroke="#000" stroke-width="1" />
<text x="260.1" y="307.768" font-size="6.3" font-weight="bold" text-anchor="end" fill="#000"  >30</text>
<line x1="260.3" y1="327.5" x2="262.7" y2="327.5" stroke="#000" stroke-width="1" />
<text x="260.1" y="329.768" font-size="6.3" font-weight="bold" text-anchor="end" fill="#000"  >20</text>
<line x1="260.3" y1="349.5" x2="262.7" y2="349.5" stroke="#000" stroke-width="1" />
<text x="260.1" y="351.768" font-size="6.3" font-weight="bold" text-anchor="end" fill="#000"  >10</text>
<line x1="260.3" y1="371.6" x2="262.7" y2="371.6" stroke="#000" stroke-width="1" />
<text x="260.1" y="373.868" font-size="6.3" font-weight="bold" text-anchor="end" fill="#000"  >0</text>
<text x="248.6" y="329" font-size="7.05" font-weight="bold" text-anchor="middle" fill="#000" transform="rotate(-90 248.6 329)" >Number of cells (x10<tspan font-size="4.6" dy="-2.4">3</tspan><tspan dy="2.4">)</tspan></text>
<line x1="284.8" y1="307.7" x2="284.8" y2="292.3" stroke="#000" stroke-width="1.5" />
<line x1="277.8" y1="292.3" x2="291.8" y2="292.3" stroke="#000" stroke-width="1.5" />
<rect x="270.00" y="307.70" width="29.60" height="64.20" fill="#000" stroke="none" stroke-width="0"/>
<line x1="328.8" y1="311.9" x2="328.8" y2="310.8" stroke="#000" stroke-width="1.5" />
<line x1="321.8" y1="310.8" x2="335.8" y2="310.8" stroke="#000" stroke-width="1.5" />
<rect x="313.80" y="311.90" width="30.00" height="60.00" fill="#000" stroke="none" stroke-width="0"/>
<line x1="372.70000000000005" y1="297" x2="372.70000000000005" y2="293.9" stroke="#000" stroke-width="1.5" />
<line x1="365.00000000000006" y1="293.9" x2="380.40000000000003" y2="293.9" stroke="#000" stroke-width="1.5" />
<rect x="357.80" y="297.00" width="29.80" height="74.90" fill="#000" stroke="none" stroke-width="0"/>
<line x1="285.4" y1="371.6" x2="285.4" y2="374.6" stroke="#000" stroke-width="1" />
<text x="285.4" y="380.9" font-size="6.6" font-weight="bold" text-anchor="middle" fill="#000"  >0</text>
<line x1="329.2" y1="371.6" x2="329.2" y2="374.6" stroke="#000" stroke-width="1" />
<text x="329.2" y="380.9" font-size="6.6" font-weight="bold" text-anchor="middle" fill="#000"  >20</text>
<line x1="372.7" y1="371.6" x2="372.7" y2="374.6" stroke="#000" stroke-width="1" />
<text x="372.7" y="380.9" font-size="6.6" font-weight="bold" text-anchor="middle" fill="#000"  >100</text>
<text x="330.2" y="392.3" font-size="7.24" font-weight="bold" text-anchor="middle" fill="#000"  >IFNγ concentration (ng/mL)</text>
<text x="1.2" y="415" font-size="13" font-weight="bold" text-anchor="start" fill="#000"  stroke="#000" stroke-width="0.35">G</text>
<text x="68.3" y="412.6" font-size="9.6" font-weight="bold" text-anchor="middle" fill="#000"   stroke="#000" stroke-width="0.3">- IFNγ</text>
<text x="171.2" y="412.6" font-size="9.6" font-weight="bold" text-anchor="middle" fill="#000"   stroke="#000" stroke-width="0.3">+ IFNγ</text>
<rect x="34.6" y="416.2" width="86.4" height="85.3" fill="#fff" stroke="#777" stroke-width="0.8"/>
<line x1="33.0" y1="500.0" x2="34.6" y2="500.0" stroke="#666" stroke-width="0.5" />
<line x1="38.6" y1="501.5" x2="38.6" y2="503.1" stroke="#777" stroke-width="0.5" />
<line x1="33.7" y1="493.83" x2="34.6" y2="493.83" stroke="#666" stroke-width="0.5" />
<line x1="44.77" y1="501.5" x2="44.77" y2="502.4" stroke="#777" stroke-width="0.5" />
<line x1="33.7" y1="490.22" x2="34.6" y2="490.22" stroke="#666" stroke-width="0.5" />
<line x1="48.38" y1="501.5" x2="48.38" y2="502.4" stroke="#777" stroke-width="0.5" />
<line x1="33.7" y1="487.66" x2="34.6" y2="487.66" stroke="#666" stroke-width="0.5" />
<line x1="50.94" y1="501.5" x2="50.94" y2="502.4" stroke="#777" stroke-width="0.5" />
<line x1="33.7" y1="485.67" x2="34.6" y2="485.67" stroke="#666" stroke-width="0.5" />
<line x1="52.93" y1="501.5" x2="52.93" y2="502.4" stroke="#777" stroke-width="0.5" />
<line x1="33.7" y1="484.05" x2="34.6" y2="484.05" stroke="#666" stroke-width="0.5" />
<line x1="54.55" y1="501.5" x2="54.55" y2="502.4" stroke="#777" stroke-width="0.5" />
<line x1="33.7" y1="482.68" x2="34.6" y2="482.68" stroke="#666" stroke-width="0.5" />
<line x1="55.92" y1="501.5" x2="55.92" y2="502.4" stroke="#777" stroke-width="0.5" />
<line x1="33.7" y1="481.49" x2="34.6" y2="481.49" stroke="#666" stroke-width="0.5" />
<line x1="57.11" y1="501.5" x2="57.11" y2="502.4" stroke="#777" stroke-width="0.5" />
<line x1="33.7" y1="480.44" x2="34.6" y2="480.44" stroke="#666" stroke-width="0.5" />
<line x1="58.16" y1="501.5" x2="58.16" y2="502.4" stroke="#777" stroke-width="0.5" />
<line x1="33.0" y1="479.5" x2="34.6" y2="479.5" stroke="#666" stroke-width="0.5" />
<line x1="59.1" y1="501.5" x2="59.1" y2="503.1" stroke="#777" stroke-width="0.5" />
<line x1="33.7" y1="473.33" x2="34.6" y2="473.33" stroke="#666" stroke-width="0.5" />
<line x1="65.27" y1="501.5" x2="65.27" y2="502.4" stroke="#777" stroke-width="0.5" />
<line x1="33.7" y1="469.72" x2="34.6" y2="469.72" stroke="#666" stroke-width="0.5" />
<line x1="68.88" y1="501.5" x2="68.88" y2="502.4" stroke="#777" stroke-width="0.5" />
<line x1="33.7" y1="467.16" x2="34.6" y2="467.16" stroke="#666" stroke-width="0.5" />
<line x1="71.44" y1="501.5" x2="71.44" y2="502.4" stroke="#777" stroke-width="0.5" />
<line x1="33.7" y1="465.17" x2="34.6" y2="465.17" stroke="#666" stroke-width="0.5" />
<line x1="73.43" y1="501.5" x2="73.43" y2="502.4" stroke="#777" stroke-width="0.5" />
<line x1="33.7" y1="463.55" x2="34.6" y2="463.55" stroke="#666" stroke-width="0.5" />
<line x1="75.05" y1="501.5" x2="75.05" y2="502.4" stroke="#777" stroke-width="0.5" />
<line x1="33.7" y1="462.18" x2="34.6" y2="462.18" stroke="#666" stroke-width="0.5" />
<line x1="76.42" y1="501.5" x2="76.42" y2="502.4" stroke="#777" stroke-width="0.5" />
<line x1="33.7" y1="460.99" x2="34.6" y2="460.99" stroke="#666" stroke-width="0.5" />
<line x1="77.61" y1="501.5" x2="77.61" y2="502.4" stroke="#777" stroke-width="0.5" />
<line x1="33.7" y1="459.94" x2="34.6" y2="459.94" stroke="#666" stroke-width="0.5" />
<line x1="78.66" y1="501.5" x2="78.66" y2="502.4" stroke="#777" stroke-width="0.5" />
<line x1="33.0" y1="459.0" x2="34.6" y2="459.0" stroke="#666" stroke-width="0.5" />
<line x1="79.6" y1="501.5" x2="79.6" y2="503.1" stroke="#777" stroke-width="0.5" />
<line x1="33.7" y1="452.83" x2="34.6" y2="452.83" stroke="#666" stroke-width="0.5" />
<line x1="85.77" y1="501.5" x2="85.77" y2="502.4" stroke="#777" stroke-width="0.5" />
<line x1="33.7" y1="449.22" x2="34.6" y2="449.22" stroke="#666" stroke-width="0.5" />
<line x1="89.38" y1="501.5" x2="89.38" y2="502.4" stroke="#777" stroke-width="0.5" />
<line x1="33.7" y1="446.66" x2="34.6" y2="446.66" stroke="#666" stroke-width="0.5" />
<line x1="91.94" y1="501.5" x2="91.94" y2="502.4" stroke="#777" stroke-width="0.5" />
<line x1="33.7" y1="444.67" x2="34.6" y2="444.67" stroke="#666" stroke-width="0.5" />
<line x1="93.93" y1="501.5" x2="93.93" y2="502.4" stroke="#777" stroke-width="0.5" />
<line x1="33.7" y1="443.05" x2="34.6" y2="443.05" stroke="#666" stroke-width="0.5" />
<line x1="95.55" y1="501.5" x2="95.55" y2="502.4" stroke="#777" stroke-width="0.5" />
<line x1="33.7" y1="441.68" x2="34.6" y2="441.68" stroke="#666" stroke-width="0.5" />
<line x1="96.92" y1="501.5" x2="96.92" y2="502.4" stroke="#777" stroke-width="0.5" />
<line x1="33.7" y1="440.49" x2="34.6" y2="440.49" stroke="#666" stroke-width="0.5" />
<line x1="98.11" y1="501.5" x2="98.11" y2="502.4" stroke="#777" stroke-width="0.5" />
<line x1="33.7" y1="439.44" x2="34.6" y2="439.44" stroke="#666" stroke-width="0.5" />
<line x1="99.16" y1="501.5" x2="99.16" y2="502.4" stroke="#777" stroke-width="0.5" />
<line x1="33.0" y1="438.5" x2="34.6" y2="438.5" stroke="#666" stroke-width="0.5" />
<line x1="100.1" y1="501.5" x2="100.1" y2="503.1" stroke="#777" stroke-width="0.5" />
<line x1="33.7" y1="432.33" x2="34.6" y2="432.33" stroke="#666" stroke-width="0.5" />
<line x1="106.27" y1="501.5" x2="106.27" y2="502.4" stroke="#777" stroke-width="0.5" />
<line x1="33.7" y1="428.72" x2="34.6" y2="428.72" stroke="#666" stroke-width="0.5" />
<line x1="109.88" y1="501.5" x2="109.88" y2="502.4" stroke="#777" stroke-width="0.5" />
<line x1="33.7" y1="426.16" x2="34.6" y2="426.16" stroke="#666" stroke-width="0.5" />
<line x1="112.44" y1="501.5" x2="112.44" y2="502.4" stroke="#777" stroke-width="0.5" />
<line x1="33.7" y1="424.17" x2="34.6" y2="424.17" stroke="#666" stroke-width="0.5" />
<line x1="114.43" y1="501.5" x2="114.43" y2="502.4" stroke="#777" stroke-width="0.5" />
<line x1="33.7" y1="422.55" x2="34.6" y2="422.55" stroke="#666" stroke-width="0.5" />
<line x1="116.05" y1="501.5" x2="116.05" y2="502.4" stroke="#777" stroke-width="0.5" />
<line x1="33.7" y1="421.18" x2="34.6" y2="421.18" stroke="#666" stroke-width="0.5" />
<line x1="117.42" y1="501.5" x2="117.42" y2="502.4" stroke="#777" stroke-width="0.5" />
<line x1="33.7" y1="419.99" x2="34.6" y2="419.99" stroke="#666" stroke-width="0.5" />
<line x1="118.61" y1="501.5" x2="118.61" y2="502.4" stroke="#777" stroke-width="0.5" />
<line x1="33.7" y1="418.94" x2="34.6" y2="418.94" stroke="#666" stroke-width="0.5" />
<line x1="119.66" y1="501.5" x2="119.66" y2="502.4" stroke="#777" stroke-width="0.5" />
<rect x="130.8" y="416.2" width="85.79999999999998" height="85.3" fill="#fff" stroke="#777" stroke-width="0.8"/>
<line x1="129.20000000000002" y1="500.0" x2="130.8" y2="500.0" stroke="#666" stroke-width="0.5" />
<line x1="134.8" y1="501.5" x2="134.8" y2="503.1" stroke="#777" stroke-width="0.5" />
<line x1="129.9" y1="493.83" x2="130.8" y2="493.83" stroke="#666" stroke-width="0.5" />
<line x1="140.97" y1="501.5" x2="140.97" y2="502.4" stroke="#777" stroke-width="0.5" />
<line x1="129.9" y1="490.22" x2="130.8" y2="490.22" stroke="#666" stroke-width="0.5" />
<line x1="144.58" y1="501.5" x2="144.58" y2="502.4" stroke="#777" stroke-width="0.5" />
<line x1="129.9" y1="487.66" x2="130.8" y2="487.66" stroke="#666" stroke-width="0.5" />
<line x1="147.14" y1="501.5" x2="147.14" y2="502.4" stroke="#777" stroke-width="0.5" />
<line x1="129.9" y1="485.67" x2="130.8" y2="485.67" stroke="#666" stroke-width="0.5" />
<line x1="149.13" y1="501.5" x2="149.13" y2="502.4" stroke="#777" stroke-width="0.5" />
<line x1="129.9" y1="484.05" x2="130.8" y2="484.05" stroke="#666" stroke-width="0.5" />
<line x1="150.75" y1="501.5" x2="150.75" y2="502.4" stroke="#777" stroke-width="0.5" />
<line x1="129.9" y1="482.68" x2="130.8" y2="482.68" stroke="#666" stroke-width="0.5" />
<line x1="152.12" y1="501.5" x2="152.12" y2="502.4" stroke="#777" stroke-width="0.5" />
<line x1="129.9" y1="481.49" x2="130.8" y2="481.49" stroke="#666" stroke-width="0.5" />
<line x1="153.31" y1="501.5" x2="153.31" y2="502.4" stroke="#777" stroke-width="0.5" />
<line x1="129.9" y1="480.44" x2="130.8" y2="480.44" stroke="#666" stroke-width="0.5" />
<line x1="154.36" y1="501.5" x2="154.36" y2="502.4" stroke="#777" stroke-width="0.5" />
<line x1="129.20000000000002" y1="479.5" x2="130.8" y2="479.5" stroke="#666" stroke-width="0.5" />
<line x1="155.3" y1="501.5" x2="155.3" y2="503.1" stroke="#777" stroke-width="0.5" />
<line x1="129.9" y1="473.33" x2="130.8" y2="473.33" stroke="#666" stroke-width="0.5" />
<line x1="161.47" y1="501.5" x2="161.47" y2="502.4" stroke="#777" stroke-width="0.5" />
<line x1="129.9" y1="469.72" x2="130.8" y2="469.72" stroke="#666" stroke-width="0.5" />
<line x1="165.08" y1="501.5" x2="165.08" y2="502.4" stroke="#777" stroke-width="0.5" />
<line x1="129.9" y1="467.16" x2="130.8" y2="467.16" stroke="#666" stroke-width="0.5" />
<line x1="167.64" y1="501.5" x2="167.64" y2="502.4" stroke="#777" stroke-width="0.5" />
<line x1="129.9" y1="465.17" x2="130.8" y2="465.17" stroke="#666" stroke-width="0.5" />
<line x1="169.63" y1="501.5" x2="169.63" y2="502.4" stroke="#777" stroke-width="0.5" />
<line x1="129.9" y1="463.55" x2="130.8" y2="463.55" stroke="#666" stroke-width="0.5" />
<line x1="171.25" y1="501.5" x2="171.25" y2="502.4" stroke="#777" stroke-width="0.5" />
<line x1="129.9" y1="462.18" x2="130.8" y2="462.18" stroke="#666" stroke-width="0.5" />
<line x1="172.62" y1="501.5" x2="172.62" y2="502.4" stroke="#777" stroke-width="0.5" />
<line x1="129.9" y1="460.99" x2="130.8" y2="460.99" stroke="#666" stroke-width="0.5" />
<line x1="173.81" y1="501.5" x2="173.81" y2="502.4" stroke="#777" stroke-width="0.5" />
<line x1="129.9" y1="459.94" x2="130.8" y2="459.94" stroke="#666" stroke-width="0.5" />
<line x1="174.86" y1="501.5" x2="174.86" y2="502.4" stroke="#777" stroke-width="0.5" />
<line x1="129.20000000000002" y1="459.0" x2="130.8" y2="459.0" stroke="#666" stroke-width="0.5" />
<line x1="175.8" y1="501.5" x2="175.8" y2="503.1" stroke="#777" stroke-width="0.5" />
<line x1="129.9" y1="452.83" x2="130.8" y2="452.83" stroke="#666" stroke-width="0.5" />
<line x1="181.97" y1="501.5" x2="181.97" y2="502.4" stroke="#777" stroke-width="0.5" />
<line x1="129.9" y1="449.22" x2="130.8" y2="449.22" stroke="#666" stroke-width="0.5" />
<line x1="185.58" y1="501.5" x2="185.58" y2="502.4" stroke="#777" stroke-width="0.5" />
<line x1="129.9" y1="446.66" x2="130.8" y2="446.66" stroke="#666" stroke-width="0.5" />
<line x1="188.14" y1="501.5" x2="188.14" y2="502.4" stroke="#777" stroke-width="0.5" />
<line x1="129.9" y1="444.67" x2="130.8" y2="444.67" stroke="#666" stroke-width="0.5" />
<line x1="190.13" y1="501.5" x2="190.13" y2="502.4" stroke="#777" stroke-width="0.5" />
<line x1="129.9" y1="443.05" x2="130.8" y2="443.05" stroke="#666" stroke-width="0.5" />
<line x1="191.75" y1="501.5" x2="191.75" y2="502.4" stroke="#777" stroke-width="0.5" />
<line x1="129.9" y1="441.68" x2="130.8" y2="441.68" stroke="#666" stroke-width="0.5" />
<line x1="193.12" y1="501.5" x2="193.12" y2="502.4" stroke="#777" stroke-width="0.5" />
<line x1="129.9" y1="440.49" x2="130.8" y2="440.49" stroke="#666" stroke-width="0.5" />
<line x1="194.31" y1="501.5" x2="194.31" y2="502.4" stroke="#777" stroke-width="0.5" />
<line x1="129.9" y1="439.44" x2="130.8" y2="439.44" stroke="#666" stroke-width="0.5" />
<line x1="195.36" y1="501.5" x2="195.36" y2="502.4" stroke="#777" stroke-width="0.5" />
<line x1="129.20000000000002" y1="438.5" x2="130.8" y2="438.5" stroke="#666" stroke-width="0.5" />
<line x1="196.3" y1="501.5" x2="196.3" y2="503.1" stroke="#777" stroke-width="0.5" />
<line x1="129.9" y1="432.33" x2="130.8" y2="432.33" stroke="#666" stroke-width="0.5" />
<line x1="202.47" y1="501.5" x2="202.47" y2="502.4" stroke="#777" stroke-width="0.5" />
<line x1="129.9" y1="428.72" x2="130.8" y2="428.72" stroke="#666" stroke-width="0.5" />
<line x1="206.08" y1="501.5" x2="206.08" y2="502.4" stroke="#777" stroke-width="0.5" />
<line x1="129.9" y1="426.16" x2="130.8" y2="426.16" stroke="#666" stroke-width="0.5" />
<line x1="208.64" y1="501.5" x2="208.64" y2="502.4" stroke="#777" stroke-width="0.5" />
<line x1="129.9" y1="424.17" x2="130.8" y2="424.17" stroke="#666" stroke-width="0.5" />
<line x1="210.63" y1="501.5" x2="210.63" y2="502.4" stroke="#777" stroke-width="0.5" />
<line x1="129.9" y1="422.55" x2="130.8" y2="422.55" stroke="#666" stroke-width="0.5" />
<line x1="212.25" y1="501.5" x2="212.25" y2="502.4" stroke="#777" stroke-width="0.5" />
<line x1="129.9" y1="421.18" x2="130.8" y2="421.18" stroke="#666" stroke-width="0.5" />
<line x1="213.62" y1="501.5" x2="213.62" y2="502.4" stroke="#777" stroke-width="0.5" />
<line x1="129.9" y1="419.99" x2="130.8" y2="419.99" stroke="#666" stroke-width="0.5" />
<line x1="214.81" y1="501.5" x2="214.81" y2="502.4" stroke="#777" stroke-width="0.5" />
<line x1="129.9" y1="418.94" x2="130.8" y2="418.94" stroke="#666" stroke-width="0.5" />
<line x1="26.5" y1="424" x2="26.5" y2="468" stroke="#000" stroke-width="1.6" />
<polygon points="26.5,417 23,425 30,425" fill="#000"/>
<text x="27.8" y="500.6" font-size="10.1"  text-anchor="start" fill="#000" transform="rotate(-90 27.8 500.6)" >CD34</text>
<text x="34.4" y="516.6" font-size="10.4"  text-anchor="start" fill="#000"  >IL-5Rα</text>
<line x1="70.4" y1="513" x2="207" y2="513" stroke="#000" stroke-width="1.6" />
<polygon points="214,513 206,509.5 206,516.5" fill="#000"/>
<text x="92.5" y="437.6" font-size="9.4" font-weight="bold" text-anchor="middle" fill="#000"   stroke="#000" stroke-width="0.3">0.64+ 0.05</text>
<text x="187.5" y="437.6" font-size="9.4" font-weight="bold" text-anchor="middle" fill="#000"   stroke="#000" stroke-width="0.3">0.02+ 0.01</text>
<ellipse cx="80" cy="452.9" rx="12.6" ry="11" fill="none" stroke="#888" stroke-width="0.7" transform="rotate(-30 80 452.9)"/>
<path d="M49.1,471.8 Q48.1,470.4 49.5,468.4 Q50.8,466.3 52.8,465.0 Q54.8,463.6 56.1,461.2 Q57.5,458.9 58.9,457.5 Q60.2,456.2 64.6,455.9 Q68.9,455.6 70.0,453.6 Q71.0,451.5 75.0,449.5 Q79.0,447.5 82.4,448.5 Q85.8,449.5 86.1,451.9 Q86.4,454.2 84.8,457.6 Q83.1,461.0 81.0,463.6 Q79.0,466.3 79.0,469.0 Q79.0,471.7 77.7,474.4 Q76.3,477.1 74.3,479.8 Q72.3,482.5 69.6,483.1 Q66.9,483.8 63.6,481.8 Q60.2,479.8 57.5,477.1 Q54.8,474.4 52.5,473.8 Q50.1,473.1 49.1,471.8 Z" fill="none" stroke="#888" stroke-width="0.6"/>
<path d="M55.8,471.2 Q54.5,469.0 55.8,466.5 Q57.0,464.0 58.5,461.8 Q60.0,459.5 61.5,458.5 Q63.0,457.5 66.2,457.5 Q69.5,457.5 71.0,455.5 Q72.5,453.5 75.8,451.8 Q79.0,450.0 81.2,450.8 Q83.5,451.5 83.7,453.2 Q83.8,455.0 82.2,457.8 Q80.5,460.5 78.7,463.0 Q76.8,465.5 76.8,468.5 Q76.8,471.5 75.4,474.2 Q74.0,477.0 72.2,479.0 Q70.5,481.0 68.5,481.2 Q66.5,481.5 63.8,479.8 Q61.0,478.0 59.0,475.8 Q57.0,473.5 55.8,471.2 Z" fill="none" stroke="#777" stroke-width="0.6"/>
<path d="M58.5,471.2 Q57.5,468.0 58.8,465.2 Q60.0,462.5 62.0,461.1 Q64.0,459.8 66.5,460.1 Q69.0,460.5 71.2,462.0 Q73.5,463.5 74.0,466.5 Q74.5,469.5 73.5,472.5 Q72.5,475.5 70.5,477.4 Q68.5,479.2 66.2,478.9 Q64.0,478.5 61.8,476.5 Q59.5,474.5 58.5,471.2 Z" fill="none" stroke="#666" stroke-width="0.7"/>
<path d="M59.9,470.8 Q59.1,468.1 60.1,465.9 Q61.1,463.6 62.8,462.5 Q64.4,461.4 66.5,461.7 Q68.5,462.0 70.4,463.2 Q72.2,464.4 72.6,466.9 Q73.0,469.3 72.2,471.8 Q71.4,474.3 69.7,475.8 Q68.1,477.3 66.3,477.0 Q64.4,476.7 62.6,475.1 Q60.7,473.4 59.9,470.8 Z" fill="none" stroke="#555" stroke-width="0.7"/>
<path d="M61.3,470.3 Q60.7,468.2 61.5,466.5 Q62.3,464.7 63.5,463.8 Q64.8,463.0 66.4,463.2 Q68.0,463.4 69.5,464.4 Q70.9,465.3 71.2,467.3 Q71.5,469.2 70.9,471.1 Q70.3,473.0 69.0,474.2 Q67.7,475.4 66.3,475.2 Q64.8,474.9 63.4,473.7 Q61.9,472.4 61.3,470.3 Z" fill="none" stroke="#555" stroke-width="0.7"/>
<path d="M62.7,469.8 Q62.3,468.3 62.8,467.1 Q63.4,465.8 64.3,465.2 Q65.2,464.6 66.4,464.7 Q67.5,464.9 68.6,465.6 Q69.6,466.3 69.8,467.6 Q70.1,469.0 69.6,470.4 Q69.2,471.8 68.2,472.6 Q67.3,473.5 66.3,473.3 Q65.2,473.2 64.2,472.2 Q63.2,471.3 62.7,469.8 Z" fill="none" stroke="#444" stroke-width="0.7"/>
<path d="M64.1,469.3 Q63.8,468.4 64.2,467.7 Q64.5,466.9 65.1,466.5 Q65.7,466.1 66.4,466.2 Q67.1,466.3 67.7,466.8 Q68.3,467.2 68.5,468.0 Q68.6,468.9 68.3,469.7 Q68.0,470.5 67.5,471.1 Q66.9,471.6 66.3,471.5 Q65.7,471.4 65.0,470.8 Q64.4,470.3 64.1,469.3 Z" fill="none" stroke="#444" stroke-width="0.7"/>
<ellipse cx="66.3" cy="468.6" rx="1.1" ry="1.5" fill="#fff"/>
<path d="M70.2,463.2 Q69.5,462.0 70.5,459.2 Q71.5,456.5 73.8,454.5 Q76.0,452.5 78.2,452.2 Q80.5,452.0 80.9,453.5 Q81.3,455.0 79.9,457.5 Q78.5,460.0 76.5,462.0 Q74.5,464.0 72.8,464.2 Q71.0,464.5 70.2,463.2 Z" fill="none" stroke="#666" stroke-width="0.7"/>
<path d="M71.4,461.9 Q70.9,461.0 71.6,458.9 Q72.4,456.9 74.1,455.4 Q75.8,453.9 77.4,453.7 Q79.1,453.5 79.4,454.6 Q79.7,455.8 78.7,457.6 Q77.6,459.5 76.1,461.0 Q74.6,462.5 73.3,462.7 Q72.0,462.9 71.4,461.9 Z" fill="none" stroke="#444" stroke-width="0.7"/>
<path d="M72.6,460.6 Q72.2,460.0 72.8,458.6 Q73.2,457.2 74.4,456.2 Q75.5,455.2 76.6,455.1 Q77.8,455.0 78.0,455.8 Q78.2,456.5 77.5,457.8 Q76.8,459.0 75.8,460.0 Q74.8,461.0 73.9,461.1 Q73.0,461.2 72.6,460.6 Z" fill="none" stroke="#333" stroke-width="0.7"/>
<path d="M73.0,460.2 Q72.7,459.7 73.1,458.5 Q73.5,457.4 74.5,456.5 Q75.4,455.7 76.4,455.6 Q77.3,455.5 77.5,456.1 Q77.6,456.7 77.1,457.8 Q76.5,458.8 75.6,459.7 Q74.8,460.5 74.1,460.6 Q73.3,460.7 73.0,460.2 Z" fill="#555" stroke="#444" stroke-width="0.5"/>
<circle cx="37" cy="472.7" r="1.4" fill="none" stroke="#999" stroke-width="0.5"/>
<ellipse cx="176" cy="453.1" rx="13.2" ry="11.3" fill="none" stroke="#777" stroke-width="0.7" transform="rotate(-35 176 453.1)"/>
<path d="M141.4,471.1 Q140.4,469.7 141.7,468.1 Q143.0,466.5 145.5,466.0 Q148.0,465.5 149.8,464.0 Q151.5,462.5 152.8,460.5 Q154.0,458.5 156.5,457.6 Q159.0,456.7 162.0,456.9 Q165.0,457.0 167.5,458.2 Q170.0,459.5 171.5,461.8 Q173.0,464.0 173.3,467.0 Q173.7,470.0 172.8,473.0 Q172.0,476.0 170.0,478.2 Q168.0,480.5 165.5,481.5 Q163.0,482.5 160.8,483.2 Q158.5,484.0 156.8,482.5 Q155.0,481.0 153.8,478.8 Q152.5,476.5 149.8,475.8 Q147.0,475.0 144.8,473.8 Q142.5,472.5 141.4,471.1 Z" fill="none" stroke="#888" stroke-width="0.6"/>
<path d="M152.1,471.5 Q151.5,468.5 152.0,465.8 Q152.5,463.0 154.2,461.1 Q156.0,459.3 158.8,458.6 Q161.5,458.0 164.2,458.8 Q167.0,459.5 169.0,461.5 Q171.0,463.5 171.5,466.2 Q172.0,469.0 171.2,472.0 Q170.5,475.0 168.5,477.2 Q166.5,479.5 163.8,480.2 Q161.0,481.0 158.5,480.0 Q156.0,479.0 154.3,476.8 Q152.7,474.5 152.1,471.5 Z" fill="none" stroke="#777" stroke-width="0.7"/>
<path d="M153.5,471.1 Q153.0,468.5 153.4,466.2 Q153.8,463.8 155.3,462.2 Q156.8,460.6 159.2,460.1 Q161.6,459.5 163.9,460.2 Q166.3,460.8 168.0,462.5 Q169.7,464.2 170.2,466.6 Q170.6,469.0 170.0,471.6 Q169.3,474.1 167.6,476.1 Q165.9,478.0 163.5,478.6 Q161.1,479.3 159.0,478.4 Q156.8,477.6 155.4,475.6 Q154.0,473.7 153.5,471.1 Z" fill="none" stroke="#777" stroke-width="0.7"/>
<path d="M154.9,470.7 Q154.4,468.6 154.8,466.6 Q155.2,464.6 156.4,463.3 Q157.7,462.0 159.7,461.5 Q161.6,461.0 163.6,461.6 Q165.6,462.1 167.0,463.5 Q168.5,465.0 168.8,467.0 Q169.2,468.9 168.7,471.1 Q168.1,473.3 166.7,474.9 Q165.2,476.5 163.3,477.0 Q161.3,477.6 159.5,476.9 Q157.7,476.1 156.5,474.5 Q155.3,472.9 154.9,470.7 Z" fill="none" stroke="#666" stroke-width="0.7"/>
<path d="M156.3,470.4 Q155.9,468.6 156.2,467.0 Q156.5,465.4 157.5,464.4 Q158.5,463.3 160.1,462.9 Q161.7,462.5 163.3,463.0 Q164.9,463.4 166.1,464.6 Q167.2,465.7 167.5,467.3 Q167.8,468.9 167.4,470.7 Q166.9,472.4 165.8,473.7 Q164.6,475.0 163.0,475.4 Q161.4,475.9 160.0,475.3 Q158.5,474.7 157.6,473.4 Q156.6,472.1 156.3,470.4 Z" fill="none" stroke="#666" stroke-width="0.7"/>
<path d="M157.6,470.0 Q157.4,468.7 157.6,467.5 Q157.8,466.2 158.6,465.4 Q159.4,464.6 160.6,464.3 Q161.8,464.0 163.0,464.4 Q164.2,464.7 165.1,465.6 Q166.0,466.5 166.2,467.7 Q166.4,468.9 166.1,470.2 Q165.7,471.5 164.9,472.5 Q164.0,473.5 162.8,473.8 Q161.6,474.2 160.5,473.7 Q159.4,473.3 158.6,472.3 Q157.9,471.3 157.6,470.0 Z" fill="none" stroke="#555" stroke-width="0.7"/>
<path d="M159.0,469.6 Q158.8,468.7 159.0,467.9 Q159.2,467.1 159.7,466.5 Q160.2,465.9 161.0,465.8 Q161.8,465.6 162.7,465.8 Q163.5,466.0 164.1,466.6 Q164.7,467.2 164.8,468.0 Q165.0,468.9 164.8,469.8 Q164.6,470.7 163.9,471.3 Q163.3,472.0 162.5,472.2 Q161.7,472.5 160.9,472.2 Q160.2,471.9 159.7,471.2 Q159.2,470.5 159.0,469.6 Z" fill="none" stroke="#555" stroke-width="0.7"/>
<path d="M160.3,469.3 Q160.2,468.7 160.3,468.3 Q160.4,467.8 160.7,467.5 Q161.0,467.2 161.4,467.1 Q161.9,467.0 162.4,467.1 Q162.8,467.2 163.2,467.6 Q163.5,467.9 163.6,468.4 Q163.7,468.8 163.6,469.3 Q163.4,469.9 163.1,470.2 Q162.8,470.6 162.3,470.7 Q161.8,470.9 161.4,470.7 Q161.0,470.5 160.7,470.2 Q160.4,469.8 160.3,469.3 Z" fill="none" stroke="#555" stroke-width="0.7"/>
<circle cx="162" cy="468.6" r="1.1" fill="#fff"/>
<path d="M144.5,471.0 Q143.0,469.5 144.5,468.5 Q146.0,467.5 148.0,467.5 Q150.0,467.5 151.0,469.0 Q152.0,470.5 151.0,471.8 Q150.0,473.0 148.0,472.8 Q146.0,472.5 144.5,471.0 Z" fill="none" stroke="#999" stroke-width="0.5"/>
<text x="229.7" y="416.2" font-size="13" font-weight="bold" text-anchor="start" fill="#000"  stroke="#000" stroke-width="0.35">H</text>
<text x="254.3" y="460.8" font-size="10.4"  text-anchor="middle" fill="#000" transform="rotate(-90 254.3 460.8)" >% of max</text>
<rect x="265.2" y="416.5" width="112.10000000000002" height="88.30000000000001" fill="#fff" stroke="#aaa" stroke-width="0.8"/>
<line x1="265.2" y1="434.16" x2="266.7" y2="434.16" stroke="#999" stroke-width="0.7" />
<line x1="265.2" y1="451.82" x2="266.7" y2="451.82" stroke="#999" stroke-width="0.7" />
<line x1="265.2" y1="469.48" x2="266.7" y2="469.48" stroke="#999" stroke-width="0.7" />
<line x1="265.2" y1="487.14" x2="266.7" y2="487.14" stroke="#999" stroke-width="0.7" />
<path d="M265.2,504 L295,504 L297.5,501 L299.4,496.5 L301,491 L302.3,486.9 L303.5,478 L304.6,467.7 L305.8,455 L307,442 L308.3,430 L309.6,421.5 L310.6,427 L311.8,438 L313.2,452 L314.8,467.7 L315.8,479 L316.7,486.9 L318,492 L319.6,496.5 L322,501 L325.4,504 Z" fill="#b3b3b3" stroke="none"/>
<path d="M265.2,504 L313,504 C318,504 320.5,494 322.5,478 C325,458 327,432 329,421.5 C332,428 334,448 337,470 C340,488 345,500 354,504 L377.3,504" fill="none" stroke="#666" stroke-width="0.8" stroke-linejoin="round"/>
<path d="M265.2,504 L306,504 C311,504 313.5,492 315.5,480 C317.5,466 319.5,440 322,427 C323,422.5 324,421.3 324.6,421.3 C325.4,421.3 326.3,423 327.5,428 C330,442 331.5,458 333.5,474 C335.5,490 339,502 346,504 L377.3,504" fill="none" stroke="#000" stroke-width="2" stroke-linejoin="round"/>
<line x1="332.7" y1="433.8" x2="368.2" y2="433.8" stroke="#333" stroke-width="1.3" />
<text x="356.3" y="432.5" font-size="8.6" font-weight="bold" text-anchor="middle" fill="#000"   stroke="#000" stroke-width="0.3">IL-5</text>
<text x="359.3" y="460.8" font-size="8.4" font-weight="bold" text-anchor="middle" fill="#000"   stroke="#000" stroke-width="0.3">IL-5+</text>
<text x="357.3" y="472.2" font-size="8.4" font-weight="bold" text-anchor="middle" fill="#000"   stroke="#000" stroke-width="0.3">IFNγ</text>
<line x1="332.7" y1="475" x2="361.8" y2="475" stroke="#333" stroke-width="1.3" />
<text x="298.3" y="519" font-size="10.2"  text-anchor="start" fill="#000"  >IL-5Rα</text>
<text x="8.3" y="544.2" font-size="13" font-weight="bold" text-anchor="start" fill="#000"  stroke="#000" stroke-width="0.35">I</text>
<text x="97" y="543.7" font-size="10.3" font-weight="bold" text-anchor="middle" fill="#000"   stroke="#000" stroke-width="0.3">Day 5</text>
<rect x="35" y="548.7" width="132.3" height="88.29999999999995" fill="none" stroke="#000" stroke-width="1.5"/>
<line x1="31.9" y1="548.7" x2="35" y2="548.7" stroke="#000" stroke-width="1" />
<text x="31.9" y="550.8960000000001" font-size="6.1" font-weight="bold" text-anchor="end" fill="#000"  >150</text>
<line x1="31.9" y1="577.8" x2="35" y2="577.8" stroke="#000" stroke-width="1" />
<text x="31.9" y="579.996" font-size="6.1" font-weight="bold" text-anchor="end" fill="#000"  >100</text>
<line x1="31.9" y1="607.4" x2="35" y2="607.4" stroke="#000" stroke-width="1" />
<text x="31.9" y="609.596" font-size="6.1" font-weight="bold" text-anchor="end" fill="#000"  >50</text>
<line x1="31.9" y1="637" x2="35" y2="637" stroke="#000" stroke-width="1" />
<text x="31.9" y="639.196" font-size="6.1" font-weight="bold" text-anchor="end" fill="#000"  >0</text>
<text x="17.2" y="593" font-size="7.27" font-weight="bold" text-anchor="middle" fill="#000" transform="rotate(-90 17.2 593)" >Expansion (% of control)</text>
<rect x="42.20" y="577.50" width="29.80" height="59.50" fill="#000" stroke="none" stroke-width="0"/>
<line x1="101.5" y1="579.7" x2="101.5" y2="563.9" stroke="#000" stroke-width="1.5" />
<line x1="94.15" y1="563.9" x2="108.85" y2="563.9" stroke="#000" stroke-width="1.5" />
<rect x="86.50" y="579.70" width="30.00" height="57.30" fill="#000" stroke="none" stroke-width="0"/>
<line x1="145.1" y1="573.4" x2="145.1" y2="561.5" stroke="#000" stroke-width="1.5" />
<line x1="137.25" y1="561.5" x2="152.95" y2="561.5" stroke="#000" stroke-width="1.5" />
<rect x="130.00" y="573.40" width="30.20" height="63.60" fill="#000" stroke="none" stroke-width="0"/>
<line x1="57.3" y1="637" x2="57.3" y2="640" stroke="#000" stroke-width="1" />
<text x="57.3" y="645.9" font-size="6.4" font-weight="bold" text-anchor="middle" fill="#000"  >0</text>
<line x1="101.5" y1="637" x2="101.5" y2="640" stroke="#000" stroke-width="1" />
<text x="101.5" y="645.9" font-size="6.4" font-weight="bold" text-anchor="middle" fill="#000"  >800</text>
<line x1="145.1" y1="637" x2="145.1" y2="640" stroke="#000" stroke-width="1" />
<text x="145.1" y="645.9" font-size="6.4" font-weight="bold" text-anchor="middle" fill="#000"  >4000</text>
<text x="102.5" y="655.9" font-size="7.14" font-weight="bold" text-anchor="middle" fill="#000"  >IFNγ concentration (U/mL)</text>
<text x="186.8" y="545" font-size="13" font-weight="bold" text-anchor="start" fill="#000"  stroke="#000" stroke-width="0.35">J</text>
<text x="275.6" y="543.7" font-size="10.3" font-weight="bold" text-anchor="middle" fill="#000"   stroke="#000" stroke-width="0.3">Day 18</text>
<rect x="210.2" y="549" width="131.8" height="88.29999999999995" fill="none" stroke="#000" stroke-width="1.5"/>
<line x1="207.1" y1="549" x2="210.2" y2="549" stroke="#000" stroke-width="1" />
<text x="207.1" y="551.196" font-size="6.1" font-weight="bold" text-anchor="end" fill="#000"  >150</text>
<line x1="207.1" y1="578.2" x2="210.2" y2="578.2" stroke="#000" stroke-width="1" />
<text x="207.1" y="580.3960000000001" font-size="6.1" font-weight="bold" text-anchor="end" fill="#000"  >100</text>
<line x1="207.1" y1="607.7" x2="210.2" y2="607.7" stroke="#000" stroke-width="1" />
<text x="207.1" y="609.8960000000001" font-size="6.1" font-weight="bold" text-anchor="end" fill="#000"  >50</text>
<line x1="207.1" y1="637.3" x2="210.2" y2="637.3" stroke="#000" stroke-width="1" />
<text x="207.1" y="639.496" font-size="6.1" font-weight="bold" text-anchor="end" fill="#000"  >0</text>
<text x="192.4" y="593" font-size="7.27" font-weight="bold" text-anchor="middle" fill="#000" transform="rotate(-90 192.4 593)" >Expansion (% of control)</text>
<rect x="216.70" y="577.50" width="30.10" height="59.80" fill="#000" stroke="none" stroke-width="0"/>
<line x1="275.6" y1="615.2" x2="275.6" y2="606.5" stroke="#000" stroke-width="1.5" />
<line x1="268.1" y1="606.5" x2="283.1" y2="606.5" stroke="#000" stroke-width="1.5" />
<rect x="260.70" y="615.20" width="29.80" height="22.10" fill="#000" stroke="none" stroke-width="0"/>
<line x1="319.7" y1="613.5" x2="319.7" y2="608" stroke="#000" stroke-width="1.5" />
<line x1="312.2" y1="608" x2="327.2" y2="608" stroke="#000" stroke-width="1.5" />
<rect x="305.00" y="613.50" width="29.40" height="23.80" fill="#000" stroke="none" stroke-width="0"/>
<line x1="236.5" y1="570.2" x2="318.8" y2="570.2" stroke="#000" stroke-width="1.3" />
<line x1="278.3" y1="570.2" x2="278.3" y2="577.1" stroke="#000" stroke-width="1.3" />
<line x1="318.8" y1="570.2" x2="318.8" y2="577.1" stroke="#000" stroke-width="1.3" />
<text x="249.9" y="569.15" font-size="15" font-weight="bold" text-anchor="middle" fill="#000"  >*</text>
<text x="257.2" y="569.15" font-size="15" font-weight="bold" text-anchor="middle" fill="#000"  >*</text>
<text x="264.5" y="569.15" font-size="15" font-weight="bold" text-anchor="middle" fill="#000"  >*</text>
<text x="297.15" y="569.15" font-size="15" font-weight="bold" text-anchor="middle" fill="#000"  >*</text>
<text x="304.45" y="569.15" font-size="15" font-weight="bold" text-anchor="middle" fill="#000"  >*</text>
<line x1="231.6" y1="637.3" x2="231.6" y2="640.3" stroke="#000" stroke-width="1" />
<text x="231.6" y="646" font-size="6.4" font-weight="bold" text-anchor="middle" fill="#000"  >0</text>
<line x1="275.6" y1="637.3" x2="275.6" y2="640.3" stroke="#000" stroke-width="1" />
<text x="275.6" y="646" font-size="6.4" font-weight="bold" text-anchor="middle" fill="#000"  >800</text>
<line x1="319.5" y1="637.3" x2="319.5" y2="640.3" stroke="#000" stroke-width="1" />
<text x="319.5" y="646" font-size="6.4" font-weight="bold" text-anchor="middle" fill="#000"  >4000</text>
<text x="277.3" y="655.9" font-size="7.14" font-weight="bold" text-anchor="middle" fill="#000"  >IFNγ concentration (U/mL)</text>
<text x="355" y="541.2" font-size="13" font-weight="bold" text-anchor="start" fill="#000"  stroke="#000" stroke-width="0.35">K</text>
<text x="455" y="543.4" font-size="10.3" font-weight="bold" text-anchor="middle" fill="#000"   stroke="#000" stroke-width="0.3">Day 18</text>
<rect x="386" y="548.7" width="130.60000000000002" height="88.59999999999991" fill="none" stroke="#000" stroke-width="1.5"/>
<line x1="382.7" y1="548.7" x2="386" y2="548.7" stroke="#000" stroke-width="1" />
<text x="382.6" y="550.9680000000001" font-size="6.3" font-weight="bold" text-anchor="end" fill="#000"  >40</text>
<line x1="382.7" y1="570.8" x2="386" y2="570.8" stroke="#000" stroke-width="1" />
<text x="382.6" y="573.068" font-size="6.3" font-weight="bold" text-anchor="end" fill="#000"  >30</text>
<line x1="382.7" y1="593" x2="386" y2="593" stroke="#000" stroke-width="1" />
<text x="382.6" y="595.268" font-size="6.3" font-weight="bold" text-anchor="end" fill="#000"  >20</text>
<line x1="382.7" y1="615.1" x2="386" y2="615.1" stroke="#000" stroke-width="1" />
<text x="382.6" y="617.368" font-size="6.3" font-weight="bold" text-anchor="end" fill="#000"  >10</text>
<line x1="382.7" y1="637.3" x2="386" y2="637.3" stroke="#000" stroke-width="1" />
<text x="382.6" y="639.568" font-size="6.3" font-weight="bold" text-anchor="end" fill="#000"  >0</text>
<text x="369.8" y="600.5" font-size="7.75" font-weight="bold" text-anchor="middle" fill="#000" transform="rotate(-90 369.8 600.5)" >Differentiated eosinophils (%)</text>
<line x1="409.35" y1="580.8" x2="409.35" y2="564.4" stroke="#000" stroke-width="1.5" />
<line x1="402.0" y1="564.4" x2="416.70000000000005" y2="564.4" stroke="#000" stroke-width="1.5" />
<rect x="394.30" y="580.80" width="30.10" height="56.50" fill="#000" stroke="none" stroke-width="0"/>
<line x1="453.35" y1="628" x2="453.35" y2="617.2" stroke="#000" stroke-width="1.5" />
<line x1="445.85" y1="617.2" x2="460.85" y2="617.2" stroke="#000" stroke-width="1.5" />
<rect x="438.30" y="628.00" width="30.10" height="9.30" fill="#000" stroke="none" stroke-width="0"/>
<line x1="497.25" y1="628.7" x2="497.25" y2="618.7" stroke="#000" stroke-width="1.5" />
<line x1="489.75" y1="618.7" x2="504.75" y2="618.7" stroke="#000" stroke-width="1.5" />
<rect x="482.20" y="628.70" width="30.10" height="8.60" fill="#000" stroke="none" stroke-width="0"/>
<line x1="410" y1="559.4" x2="492.3" y2="559.4" stroke="#000" stroke-width="1.3" />
<line x1="451.5" y1="559.4" x2="451.5" y2="566.2" stroke="#000" stroke-width="1.3" />
<line x1="492.3" y1="559.4" x2="492.3" y2="566.2" stroke="#000" stroke-width="1.3" />
<text x="429.7" y="561.35" font-size="15" font-weight="bold" text-anchor="middle" fill="#000"  >*</text>
<text x="470.8" y="561.35" font-size="15" font-weight="bold" text-anchor="middle" fill="#000"  >*</text>
<line x1="409.3" y1="637.3" x2="409.3" y2="640.3" stroke="#000" stroke-width="1" />
<text x="409.3" y="646.2" font-size="6.4" font-weight="bold" text-anchor="middle" fill="#000"  >0</text>
<line x1="453.3" y1="637.3" x2="453.3" y2="640.3" stroke="#000" stroke-width="1" />
<text x="453.3" y="646.2" font-size="6.4" font-weight="bold" text-anchor="middle" fill="#000"  >800</text>
<line x1="497.2" y1="637.3" x2="497.2" y2="640.3" stroke="#000" stroke-width="1" />
<text x="497.2" y="646.2" font-size="6.4" font-weight="bold" text-anchor="middle" fill="#000"  >4000</text>
<text x="457.7" y="656" font-size="7.7" font-weight="bold" text-anchor="middle" fill="#000"  >IFNγ concentration (U/mL)</text>
</g>
</svg>
</body></html>
